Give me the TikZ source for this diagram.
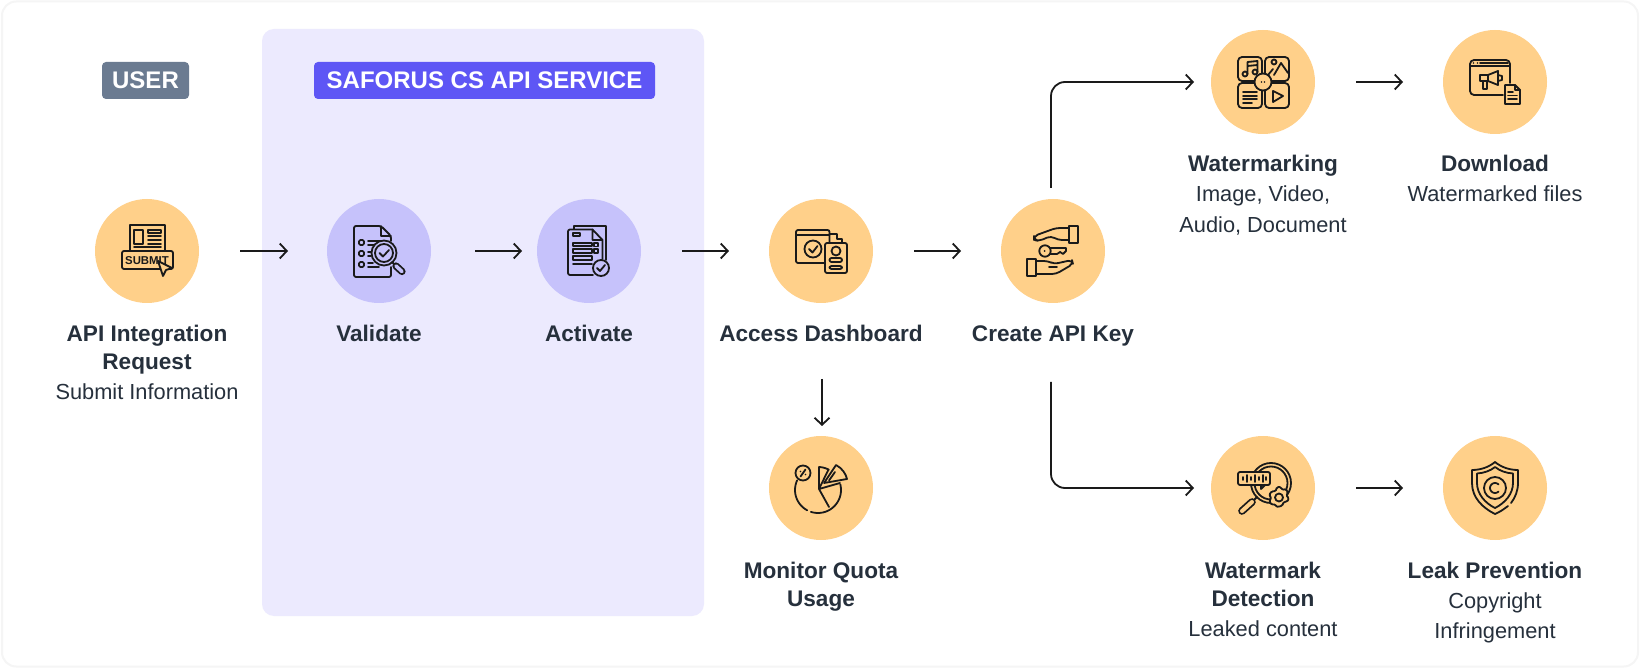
\documentclass[tikz,border=0pt]{standalone}
\usepackage{fontspec}
\setmainfont{Liberation Sans}
\usetikzlibrary{arrows.meta}
\definecolor{bubbleor}{HTML}{FFD08A}
\definecolor{bubblepu}{HTML}{C6C2FB}
\definecolor{panelpu}{HTML}{ECEAFE}
\definecolor{tagpu}{HTML}{5E56F5}
\definecolor{taggr}{HTML}{6B7B91}
\definecolor{inkdk}{HTML}{1A1A1A}
\definecolor{txtdk}{HTML}{26303C}
\tikzset{
  bubble/.style={circle, fill=bubbleor, minimum size=52pt, inner sep=0pt, outer sep=0pt},
  bubblepur/.style={bubble, fill=bubblepu},
  tagbox/.style={rounded corners=2pt, text=white, inner sep=0pt, minimum height=18.5pt, font=\fontsize{12}{14}\selectfont\bfseries},
  titletxt/.style={anchor=base, text=txtdk, font=\fontsize{11.3}{13}\selectfont\bfseries},
  subtxt/.style={anchor=base, text=txtdk, font=\fontsize{10.9}{12}\selectfont},
  flow/.style={draw=inkdk, line width=0.9pt, -{Straight Barb[length=3.5pt,width=7.5pt]}},
  ico/.style={draw=inkdk, line width=0.9pt, line cap=round, line join=round},
}
\begin{document}
\begin{tikzpicture}[x=0.5pt, y=-0.5pt]

\useasboundingbox (0,0) rectangle (1640,668);

% Frame
\draw[draw=black!4, line width=1pt, fill=white, rounded corners=7pt] (2,1.5) rectangle (1638,666.5);

% Service panel
\fill[panelpu, rounded corners=6pt] (262,29) rectangle (704,616);

% Tags
\node[tagbox, fill=taggr, minimum width=43.5pt] (usertag) at (145.5,80.5) {\raisebox{-0.5pt}{USER}};
\node[tagbox, fill=tagpu, minimum width=170.5pt] (apitag) at (484.5,80.5) {\raisebox{-0.5pt}{SAFORUS CS API SERVICE}};

%
% Circles
%
\node[bubble] (submit) at (147,251) {};
\node[bubblepur] (validate) at (379,251) {};
\node[bubblepur] (activate) at (589,251) {};
\node[bubble] (dashboard) at (821,251) {};
\node[bubble] (apikey) at (1053,251) {};
\node[bubble] (marking) at (1263,82) {};
\node[bubble] (download) at (1495,82) {};
\node[bubble] (quota) at (821,488) {};
\node[bubble] (detect) at (1263,488) {};
\node[bubble] (leak) at (1495,488) {};

%
% Arrows
%
\draw[flow, shorten <=20.5pt, shorten >=19.5pt] (submit) -- (validate);
\draw[flow, shorten <=22pt, shorten >=7.5pt] (validate) -- (activate);
\draw[flow, shorten <=20.5pt, shorten >=20pt] (activate) -- (dashboard);
\draw[flow, shorten <=20.5pt, shorten >=20pt] (dashboard) -- (apikey);
\draw[flow, shorten <=38pt, shorten >=5pt] ([xshift=0.5pt]dashboard.south) -- ([xshift=0.5pt]quota.north);
\draw[flow, shorten <=20.5pt, shorten >=20pt] (marking) -- (download);
\draw[flow, shorten <=20.5pt, shorten >=20pt] (detect) -- (leak);
\draw[flow, rounded corners=7pt, shorten <=5.5pt, shorten >=8.5pt] ([xshift=-1pt]apikey.north) |- (marking.west);
\draw[flow, rounded corners=7pt, shorten <=39.5pt, shorten >=8.5pt] ([xshift=-1pt]apikey.south) |- (detect.west);

%
% Labels
%
\path (147,342) node[titletxt] (reqa) {API Integration};
\path (147,370) node[titletxt] (reqb) {Request};
\path (147,400) node[subtxt] (reqc) {Submit Information};
\path (379,342) node[titletxt] (vallbl) {Validate};
\path (589,342) node[titletxt] (actlbl) {Activate};
\path (821,342) node[titletxt] (dashlbl) {Access Dashboard};
\path (1053,342) node[titletxt] (keylbl) {Create API Key};
\path (1263,172) node[titletxt] (marka) {Watermarking};
\path (1263,202) node[subtxt] (markb) {Image, Video,};
\path (1263,233) node[subtxt] (markc) {Audio, Document};
\path (1495,172) node[titletxt] (downa) {Download};
\path (1495,202) node[subtxt] (downb) {Watermarked files};
\path (821,578) node[titletxt] (quotaa) {Monitor Quota};
\path (821,606) node[titletxt] (quotab) {Usage};
\path (1263,578) node[titletxt] (deta) {Watermark};
\path (1263,606) node[titletxt] (detb) {Detection};
\path (1263,636) node[subtxt] (detc) {Leaked content};
\path (1495,578) node[titletxt] (leaka) {Leak Prevention};
\path (1495,608) node[subtxt] (leakb) {Copyright};
\path (1495,638) node[subtxt] (leakc) {Infringement};

%
% Icons
%

% Submit form
\begin{scope}[shift={(147,251)}, every path/.append style={ico}]
\draw (-17,0) -- (-17,-26) -- (18,-26) -- (18,0);
\draw (-13,-21) rectangle (-4,-7);
\draw (1,-21) rectangle (14,-18);
\draw (1,-15) -- (14,-15) (1,-11) -- (14,-11) (1,-7) -- (14,-7) (-13,-4) -- (14,-4);
\draw[rounded corners=1pt] (-25,0) rectangle (26,18);
\node[text=inkdk, inner sep=0pt, font=\fontsize{5.7}{7}\selectfont\bfseries, draw=none] (submittxt) at (0,9.5) {SUBMIT};
\filldraw[fill=bubbleor] (11,10) -- (25,17) -- (19,19) -- (16,25) -- cycle;
\end{scope}

% Checklist and lens
\begin{scope}[shift={(379,251)}, every path/.append style={ico}]
\draw[rounded corners=1pt] (12,-10) -- (12,-15) -- (2,-25) -- (-25,-25) -- (-25,26) -- (12,26) -- (12,16);
\draw (2,-25) -- (2,-15) -- (12,-15);
\draw[rounded corners=0.7pt] (-20,-11) rectangle (-15,-6) (-20,0) rectangle (-15,5) (-20,11) rectangle (-15,16);
\draw (-11,-10) -- (3,-10) (-11,-6) -- (0,-6) (-11,1) -- (-8,1) (-11,5) -- (-8,5) (-11,12) -- (-6,12) (-11,16) -- (0,16);
\filldraw[fill=bubblepu] (5,2) circle [radius=12.5];
\draw (5,2) circle [radius=9];
\draw (0.5,2) -- (4,5.5) -- (10,-1);
\draw (13,11) -- (15,13);
\draw[line width=3.6pt] (17,15) -- (23,20.5);
\draw[draw=bubblepu, line width=1.8pt] (17,15) -- (23,20.5);
\end{scope}

% Document with tick
\begin{scope}[shift={(589,251)}, every path/.append style={ico}]
\draw (-15,-22) -- (-15,-25) -- (17,-25) -- (17,9);
\draw[rounded corners=1pt] (3.5,-21.5) -- (-21,-21.5) -- (-21,24) -- (4,24);
\draw (3.5,-21.5) -- (13.5,-11) -- (13.5,8) (3.5,-21.5) -- (3.5,-11) -- (13.5,-11);
\draw (-16,-18) rectangle (-9,-15);
\draw (-16,-8) rectangle (3,-5) (-16,-2) rectangle (3,2) (-16,5) rectangle (3,9);
\draw (5,-8) rectangle (9,-4.5) (5,-2) rectangle (9,2);
\draw (-16,13) -- (3,13);
\filldraw[fill=bubblepu] (12,17) circle [radius=8];
\draw (8,17) -- (11,20) -- (16,14);
\end{scope}

% Dashboard window and badge
\begin{scope}[shift={(821,251)}, every path/.append style={ico}]
\draw[rounded corners=1pt] (3,12) -- (-25,12) -- (-25,-21) -- (8.5,-21) -- (8.5,-9);
\draw (-25,-16) -- (8.5,-16);
\draw (-8,-2) circle [radius=8.5];
\draw (-12,-2) -- (-8.5,1.5) -- (-3.5,-5);
\draw (8.5,-17) -- (16,-17) -- (16,-12) -- (21,-12) -- (21,-8);
\draw[rounded corners=1pt] (4,-8) rectangle (26,22);
\draw (15,0) circle [radius=4.5];
\draw[rounded corners=1pt] (8.5,11) -- (8.5,7) -- (21,7) -- (21,11) -- cycle;
\draw[rounded corners=1pt] (8.5,15) rectangle (21,18);
\end{scope}

% Hands and key
\begin{scope}[shift={(1053,251)}, every path/.append style={ico}]
\draw (16,-25) rectangle (25,-8);
\draw[rounded corners=2pt] (16,-23) -- (3,-23) -- (-19,-15) -- (-19,-11) -- (-14,-10) -- (-2,-15) -- (5,-11) -- (16,-11);
\draw (-8,0) circle [radius=5.7];
\fill[inkdk, draw=none] (-8.5,0) circle [radius=1];
\draw (-3,-3) -- (13,-3) -- (13,0) -- (10,3) -- (7,1) -- (4,3) -- (-3,3);
\draw (-26,8) rectangle (-17,25);
\draw[rounded corners=2pt] (-17,10) -- (-5,10) -- (1,13) -- (19,9) -- (20,13) -- (3,23) -- (-17,23);
\draw (-4,16) -- (4,16);
\end{scope}

% Media grid
\begin{scope}[shift={(1263,82)}, every path/.append style={ico}]
\draw[rounded corners=2pt] (-25,-25) rectangle (-1,-1) (2,-25) rectangle (26,-1);
\draw[rounded corners=2pt] (-25,1) rectangle (-1,26) (2,1) rectangle (26,26);
\draw (-18,-8) circle [radius=2.5] (-8,-10) circle [radius=2.5];
\draw (-15.5,-8) -- (-15.5,-20) -- (-5.5,-21) -- (-5.5,-10) (-15.5,-16) -- (-5.5,-17);
\draw (11,-20) circle [radius=2.5];
\draw (5,-7) -- (10,-13) (11,-7) -- (18,-19) -- (25,-9);
\draw (-20,10) -- (-6,10) (-20,14) -- (-6,14) (-20,17) -- (-6,17) (-20,21) -- (-11,21);
\draw (10,9) -- (20,14) -- (10,20) -- cycle;
\filldraw[fill=bubbleor] (0,0) circle [radius=8.5];
\fill[inkdk, draw=none] (-1.5,0) circle [radius=0.8] (1.5,0) circle [radius=0.8];
\end{scope}

% Window and megaphone
\begin{scope}[shift={(1495,82)}, every path/.append style={ico}]
\draw[rounded corners=2pt] (8,13) -- (-25,13) -- (-25,-22) -- (15,-22) -- (15,1);
\draw (-25,-16) -- (15,-16);
\draw (-15,-19) -- (13,-19);
\fill[inkdk, draw=none] (-21.5,-19) circle [radius=0.8] (-17.5,-19) circle [radius=0.8];
\draw (-15,-7) rectangle (-7,-1);
\draw (-7,-7) -- (3,-11) -- (3,3) -- (-7,-1);
\draw (3,-7) -- (7,-6) -- (7,-2) -- (3,-1);
\draw (-12,-1) -- (-12,7) -- (-8,7) -- (-8,-1);
\draw (10,3) -- (20,3) -- (25,8) -- (25,22) -- (10,22) -- cycle;
\draw (20,3) -- (20,8) -- (25,8);
\draw (13,10) -- (18,10) (13,13.5) -- (22,13.5) (13,17) -- (22,17);
\end{scope}

% Pie chart
\begin{scope}[shift={(821,488)}, every path/.append style={ico}]
\draw plot[domain=-87:-62, samples=8, smooth] ({-3+23*cos(\x)},{2+23*sin(\x)});
\draw plot[domain=-14:108, samples=24, smooth] ({-3+23*cos(\x)},{2+23*sin(\x)});
\draw plot[domain=118:205, samples=16, smooth] ({-3+23*cos(\x)},{2+23*sin(\x)});
\draw (-2,1) -- (-2,-21) (-2,1) -- (8,19) (-2,1) -- (7.5,-18.5) (-2,1) -- (19,-5);
\filldraw[fill=bubbleor] (-18,-15) circle [radius=7.5];
\draw (-20.5,-11.5) -- (-15.5,-18.5);
\fill[inkdk, draw=none] (-20.5,-16.5) circle [radius=0.9] (-15.5,-13.5) circle [radius=0.9];
\filldraw[fill=bubbleor] (3,-5) -- (15,-23) .. controls (21,-20) and (25,-14) .. (26,-9) -- cycle;
\draw (8,-7.5) -- (14,-16);
\end{scope}

% Lens, wave and gear
\begin{scope}[shift={(1263,488)}, every path/.append style={ico}]
\draw (8,-5) circle [radius=20];
\draw (8,-5) circle [radius=16.5];
\draw (-6,9) -- (-9,12);
\draw[line width=3.8pt] (-11,14) -- (-21,23);
\draw[draw=bubbleor, line width=2pt] (-11,14) -- (-21,23);
\filldraw[fill=bubbleor, rounded corners=1pt] (-25,-16) rectangle (7,-3);
\filldraw[fill=bubbleor] (-2,-3) -- (-2,1) -- (2,-3) -- cycle;
\draw (-20,-11) -- (-20,-8) (-16,-13) -- (-16,-6) (-12,-11) -- (-12,-8) (-8,-13) -- (-8,-6) (-4,-11) -- (-4,-8) (0,-13) -- (0,-6) (3,-11) -- (3,-8);
\filldraw[fill=bubbleor, rounded corners=0.7pt] (14,-1) -- (18,-1) -- (19,2) -- (23,1) -- (25,5) -- (23,7.5) -- (26,10) -- (24,14) -- (21,13.5) -- (19,18) -- (13,19) -- (12.5,16) -- (9,17) -- (6,13) -- (8.5,10) -- (6,7) -- (9,3) -- (12.5,3.5) -- cycle;
\draw (16,9.5) circle [radius=4];
\end{scope}

% Shield with copyright mark
\begin{scope}[shift={(1495,488)}, every path/.append style={ico}]
\draw (0,-26) .. controls (-6,-21) and (-14,-18) .. (-23,-18) -- (-23,-5) .. controls (-23,10) and (-12,20) .. (0,26) .. controls (5,24) and (9,21) .. (13,18);
\draw (16,15) .. controls (20,10) and (23,3) .. (23,-5) -- (23,-18) .. controls (14,-18) and (6,-21) .. (0,-26);
\draw (0,-21) .. controls (-5,-17) and (-11,-15) .. (-18,-14.5) -- (-18,-5) .. controls (-18,6) and (-10,15) .. (0,20) .. controls (10,15) and (18,6) .. (18,-5) -- (18,-14.5) .. controls (11,-15) and (5,-17) .. (0,-21);
\draw (0,0) circle [radius=11];
\draw plot[domain=45:315, samples=16, smooth] ({5*cos(\x)},{5*sin(\x)});
\end{scope}

\end{tikzpicture}
\end{document}
